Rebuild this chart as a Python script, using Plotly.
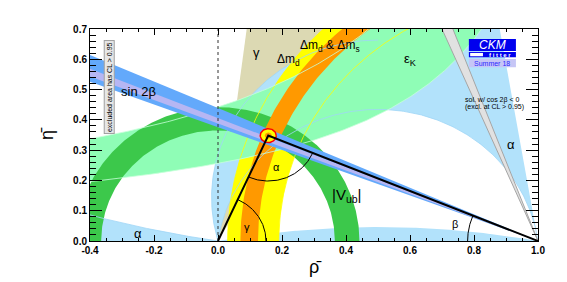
import numpy as np
import plotly.graph_objects as go

# ---------------- values ----------------
apex_rho = [0.157]
apex_eta = [0.348]

sin2b_band_deg = [20.6, 23.7]      # beta range of the sin2beta band (lines through rho=1)
sin2b_core_deg = [21.2, 22.1]
cos2b_excl_deg = [66.8, 69.2]      # second solution (cos2beta<0), lines through rho=1
vub_radius = [0.365, 0.442]        # |Vub| circle radii about (0,0)
dmd_radius = [0.81, 0.97]          # Delta m_d radii about (1,0)
dms_radius = [0.875, 0.93]         # Delta m_d & Delta m_s radii about (1,0)
gamma_deg = [60.0, 82.7]           # gamma wedge at (0,0)
epsK_k = [0.30, 0.28]              # eps_K hyperbola  eta*(1-rho+k)=c  (lower, upper edge)
epsK_c = [0.333, 0.566]
alpha_lune_deg = [74.0, 98.0]      # alpha arcs through (0,0),(1,0)
alpha_edge_deg = [99.7]            # right edge of the alpha region, through (1,0)
alpha_axis_deg = [8.6, 169.5]      # near-axis alpha solutions

x_tick_vals = [-0.4, -0.2, 0.0, 0.2, 0.4, 0.6, 0.8, 1.0]
x_tick_text = ["-0.4", "-0.2", "0.0", "0.2", "0.4", "0.6", "0.8", "1.0"]
y_tick_vals = [0.0, 0.1, 0.2, 0.3, 0.4, 0.5, 0.6, 0.7]
y_tick_text = ["0.0", "0.1", "0.2", "0.3", "0.4", "0.5", "0.6", "0.7"]

# ---------------- colours ----------------
C_GAMMA = "#dcd9b3"
C_ALPHA = "#b2e2fb"
C_ALPHA_L = "#9fd6f6"
C_YELLOW = "#ffff00"
C_ORANGE = "#ff9900"
C_EPSK = "#8ffdb6"
C_EPSK_L = "#c6ffd9"
C_VUB = "#3cc84b"
C_SIN2B = "#63a9fb"
C_SIN2B_CORE = "#b6b6f3"
C_GREY = "#e1e1e1"
C_GREY_L = "#a5a5a5"

D = np.pi / 180.0


def arc(cx, cy, r, a0, a1, n=300):
    t = np.linspace(a0, a1, n) * D
    return cx + r * np.cos(t), cy + r * np.sin(t)


def wedge(cx, cy, a0, a1, L=3.0):
    return ([cx, cx + L * np.cos(a0 * D), cx + L * np.cos(a1 * D), cx],
            [cy, cy + L * np.sin(a0 * D), cy + L * np.sin(a1 * D), cy])


def annulus(cx, cy, r0, r1, a0=0.0, a1=180.0):
    xo, yo = arc(cx, cy, r1, a0, a1)
    xi, yi = arc(cx, cy, r0, a1, a0)
    return np.concatenate([xo, xi]), np.concatenate([yo, yi])


def acirc(a):
    return 0.5, 0.5 / np.tan(a * D), 0.5 / np.sin(a * D)


fig = go.Figure()


def fill(x, y, color, line_color=None, lw=0):
    fig.add_trace(go.Scatter(x=list(x), y=list(y), mode="lines", fill="toself",
                             fillcolor=color,
                             line=dict(width=lw, color=line_color or color),
                             hoverinfo="skip", showlegend=False))


def line(x, y, color, lw=1.0, dash=None):
    fig.add_trace(go.Scatter(x=list(x), y=list(y), mode="lines",
                             line=dict(width=lw, color=color, dash=dash),
                             hoverinfo="skip", showlegend=False))


# gamma wedge
gx, gy = wedge(0.0, 0.0, gamma_deg[0], gamma_deg[1])
fill(gx, gy, C_GAMMA)

# alpha main region
cxl, cyl, Rl = acirc(alpha_lune_deg[0])
cxh, cyh, Rh = acirc(alpha_lune_deg[1])
a_lo_org = np.degrees(np.arctan2(-cyl, -0.5)) % 360
a_hi_org = np.degrees(np.arctan2(-cyh, -0.5)) % 360
a_hi_one = np.degrees(np.arctan2(-cyh, 0.5))
x1, y1 = arc(cxl, cyl, Rl, 90.0, a_lo_org)
x2, y2 = arc(cxh, cyh, Rh, a_hi_org, a_hi_one)
te = 0.8 / np.sin(alpha_edge_deg[0] * D)
xe = [1.0, 1.0 + te * np.cos(alpha_edge_deg[0] * D), 0.5]
ye = [0.0, 0.8, 0.8]
fill(np.concatenate([x1, x2, xe]), np.concatenate([y1, y2, ye]), C_ALPHA)

# alpha near-axis regions
cxa, cya, Ra = acirc(alpha_axis_deg[0])
rl = np.linspace(-0.6, 0.0, 200)
el = cya - np.sqrt(Ra ** 2 - (rl - cxa) ** 2)
fill(np.concatenate([rl, [0.0, -0.6]]), np.concatenate([el, [0.0, 0.0]]), C_ALPHA)
cxb, cyb, Rb = acirc(alpha_axis_deg[1])
rb = np.linspace(0.0, 1.0, 200)
eb = cyb + np.sqrt(Rb ** 2 - (rb - cxb) ** 2)
fill(np.concatenate([rb, [1.0, 0.0]]), np.concatenate([eb, [0.0, 0.0]]), C_ALPHA)

# Delta m_d (yellow)
dx, dy = annulus(1.0, 0.0, dmd_radius[0], dmd_radius[1], 0.0, 180.0)
fill(dx, dy, C_YELLOW)

# eps_K
rr = np.linspace(-0.6, 1.1, 400)
up = np.minimum(epsK_c[1] / (1.0 - rr + epsK_k[1]), 1.2)
lo = np.minimum(epsK_c[0] / (1.0 - rr + epsK_k[0]), 1.2)
fill(np.concatenate([rr, rr[::-1]]), np.concatenate([up, lo[::-1]]), C_EPSK)

# |Vub|
vx, vy = annulus(0.0, 0.0, vub_radius[0], vub_radius[1], 0.0, 180.0)
fill(vx, vy, C_VUB)

# Delta m_d & Delta m_s (orange)
ox, oy = annulus(1.0, 0.0, dms_radius[0], dms_radius[1], 0.0, 180.0)
fill(ox, oy, C_ORANGE)

# thin contour lines of the constraints
lx, ly = arc(cxl, cyl, Rl, 90.0, a_lo_org)
line(lx, ly, C_ALPHA_L, 0.8)
lx, ly = arc(cxh, cyh, Rh, a_hi_org, a_hi_one)
line(lx, ly, C_ALPHA_L, 0.8)
line(rl, el, C_ALPHA_L, 0.8)
for r in dmd_radius:
    lx, ly = arc(1.0, 0.0, r, 90.0, 180.0)
    line(lx, ly, C_YELLOW, 0.8)
line(rr, up, C_EPSK_L, 0.8)
line(rr, lo, C_EPSK_L, 0.8)

# sin 2beta
sx, sy = wedge(1.0, 0.0, 180 - sin2b_band_deg[1], 180 - sin2b_band_deg[0])
fill(sx, sy, C_SIN2B)
sx, sy = wedge(1.0, 0.0, 180 - sin2b_core_deg[1], 180 - sin2b_core_deg[0])
fill(sx, sy, C_SIN2B_CORE)

# cos2beta<0 solution (grey)
cx_, cy_ = wedge(1.0, 0.0, 180 - cos2b_excl_deg[1], 180 - cos2b_excl_deg[0])
fill(cx_, cy_, C_GREY, C_GREY_L, 1.0)

# dashed rho = 0 line
line([0.0, 0.0], [0.0, 0.7], "#333333", 1.0, "3px,3px")

# unitarity triangle
ar, ae = apex_rho[0], apex_eta[0]
ang_to_org = np.degrees(np.arctan2(-ae, -ar))
ang_to_one = np.degrees(np.arctan2(-ae, 1.0 - ar))
gam = np.degrees(np.arctan2(ae, ar))
bet = np.degrees(np.arctan2(ae, 1.0 - ar))

# apex fit region
ex = ar + 0.025 * np.cos(np.linspace(0, 2 * np.pi, 80))
ey = ae + 0.023 * np.sin(np.linspace(0, 2 * np.pi, 80))
fill(ex, ey, C_YELLOW, "#ff0000", 1.5)
ex = ar + 0.011 * np.cos(np.linspace(0, 2 * np.pi, 60))
ey = ae + 0.010 * np.sin(np.linspace(0, 2 * np.pi, 60))
fill(ex, ey, C_ORANGE)

line([0.0, ar, 1.0], [0.0, ae, 0.0], "black", 2.0)

# angle arcs
lx, ly = arc(ar, ae, 0.15, ang_to_org, ang_to_one, 120)
line(lx, ly, "black", 1.0)
lx, ly = arc(0.0, 0.0, 0.15, 0.0, gam, 120)
line(lx, ly, "black", 1.0)
lx, ly = arc(1.0, 0.0, 0.22, 180.0 - bet, 180.0, 120)
line(lx, ly, "black", 1.0)

FONT = "Liberation Sans, Arial, Helvetica, sans-serif"
ann = []


def label(x, y, t, size=13, color="black", **kw):
    d = dict(x=x, y=y, xref="x", yref="y", text=t, showarrow=False,
             font=dict(family=FONT, size=size, color=color))
    d.update(kw)
    ann.append(d)


label(-0.247, 0.492, "sin 2β", 13)
label(0.119, 0.624, "γ", 13)
label(0.219, 0.597, "Δm<sub>d</sub>", 12)
label(0.35, 0.644, "Δm<sub>d</sub> & Δm<sub>s</sub>", 12)
label(0.60, 0.600, "ε<sub>K</sub>", 13)
label(0.916, 0.317, "α", 13)
label(-0.25, 0.026, "α", 13)
label(0.184, 0.244, "α", 11)
label(0.403, 0.150, "|V<sub>ub</sub>|", 15)
label(0.09, 0.046, "γ", 11)
label(0.74, 0.056, "β", 11)
label(0.766, 0.467, "sol. w/ cos 2β < 0", 7, xanchor="left")
label(0.766, 0.441, "(excl. at CL > 0.95)", 7, xanchor="left")
label(-0.341, 0.508, "excluded area has CL > 0.95", 7, textangle=-90,
      bgcolor="#e6e6e6", bordercolor="#a0a0a0", borderwidth=1, borderpad=1)

# CKMfitter logo
shapes = [
    dict(type="rect", xref="x", yref="y", x0=0.784, x1=0.931, y0=0.627, y1=0.667,
         fillcolor="#0000ee", line=dict(width=0), layer="above"),
    dict(type="rect", xref="x", yref="y", x0=0.784, x1=0.931, y0=0.607, y1=0.624,
         fillcolor="#0000ee", line=dict(width=0), layer="above"),
    dict(type="rect", xref="x", yref="y", x0=0.788, x1=0.828, y0=0.610, y1=0.621,
         fillcolor="white", line=dict(width=0), layer="above"),
    dict(type="rect", xref="x", yref="y", x0=0.784, x1=0.931, y0=0.574, y1=0.601,
         fillcolor="#c6c6f6", line=dict(width=0), layer="above"),
]
label(0.8575, 0.648, "<i>CKM</i>", 12, "white")
label(0.88, 0.6155, "<b>f i t t e r</b>", 6, "white")
label(0.8575, 0.5875, "Summer 18", 7, "#2a2aff")

fig.update_layout(
    width=567, height=282,
    margin=dict(l=90, r=29, t=29, b=41, autoexpand=False),
    paper_bgcolor="white", plot_bgcolor="white",
    showlegend=False, annotations=ann, shapes=shapes,
    xaxis=dict(range=[-0.4, 1.0], showgrid=False, zeroline=False, automargin=False,
               showline=True, linecolor="black", linewidth=1, mirror="allticks",
               tickmode="array", tickvals=x_tick_vals, ticktext=x_tick_text,
               ticks="inside", ticklen=6, tickwidth=1, tickcolor="black",
               minor=dict(tickmode="linear", tick0=-0.4, dtick=0.05, ticks="inside",
                          ticklen=3, tickwidth=1, tickcolor="black"),
               tickfont=dict(family=FONT, size=10, color="black", weight="bold"),
               title=dict(text="ρ̄", font=dict(family=FONT, size=18, color="black"),
                          standoff=5)),
    yaxis=dict(range=[0.0, 0.7], showgrid=False, zeroline=False, automargin=False,
               showline=True, linecolor="black", linewidth=1, mirror="allticks",
               tickmode="array", tickvals=y_tick_vals, ticktext=y_tick_text,
               ticks="inside", ticklen=12, tickwidth=1, tickcolor="black",
               minor=dict(tickmode="linear", tick0=0.0, dtick=0.02, ticks="inside",
                          ticklen=6, tickwidth=1, tickcolor="black"),
               tickfont=dict(family=FONT, size=10, color="black", weight="bold"),
               title=dict(text="η̄", font=dict(family=FONT, size=18, color="black"),
                          standoff=14)),
)

fig.write_html("out.html", config={"displayModeBar": False},
               post_script="document.body.style.margin='0px';document.body.style.padding='0px';")
